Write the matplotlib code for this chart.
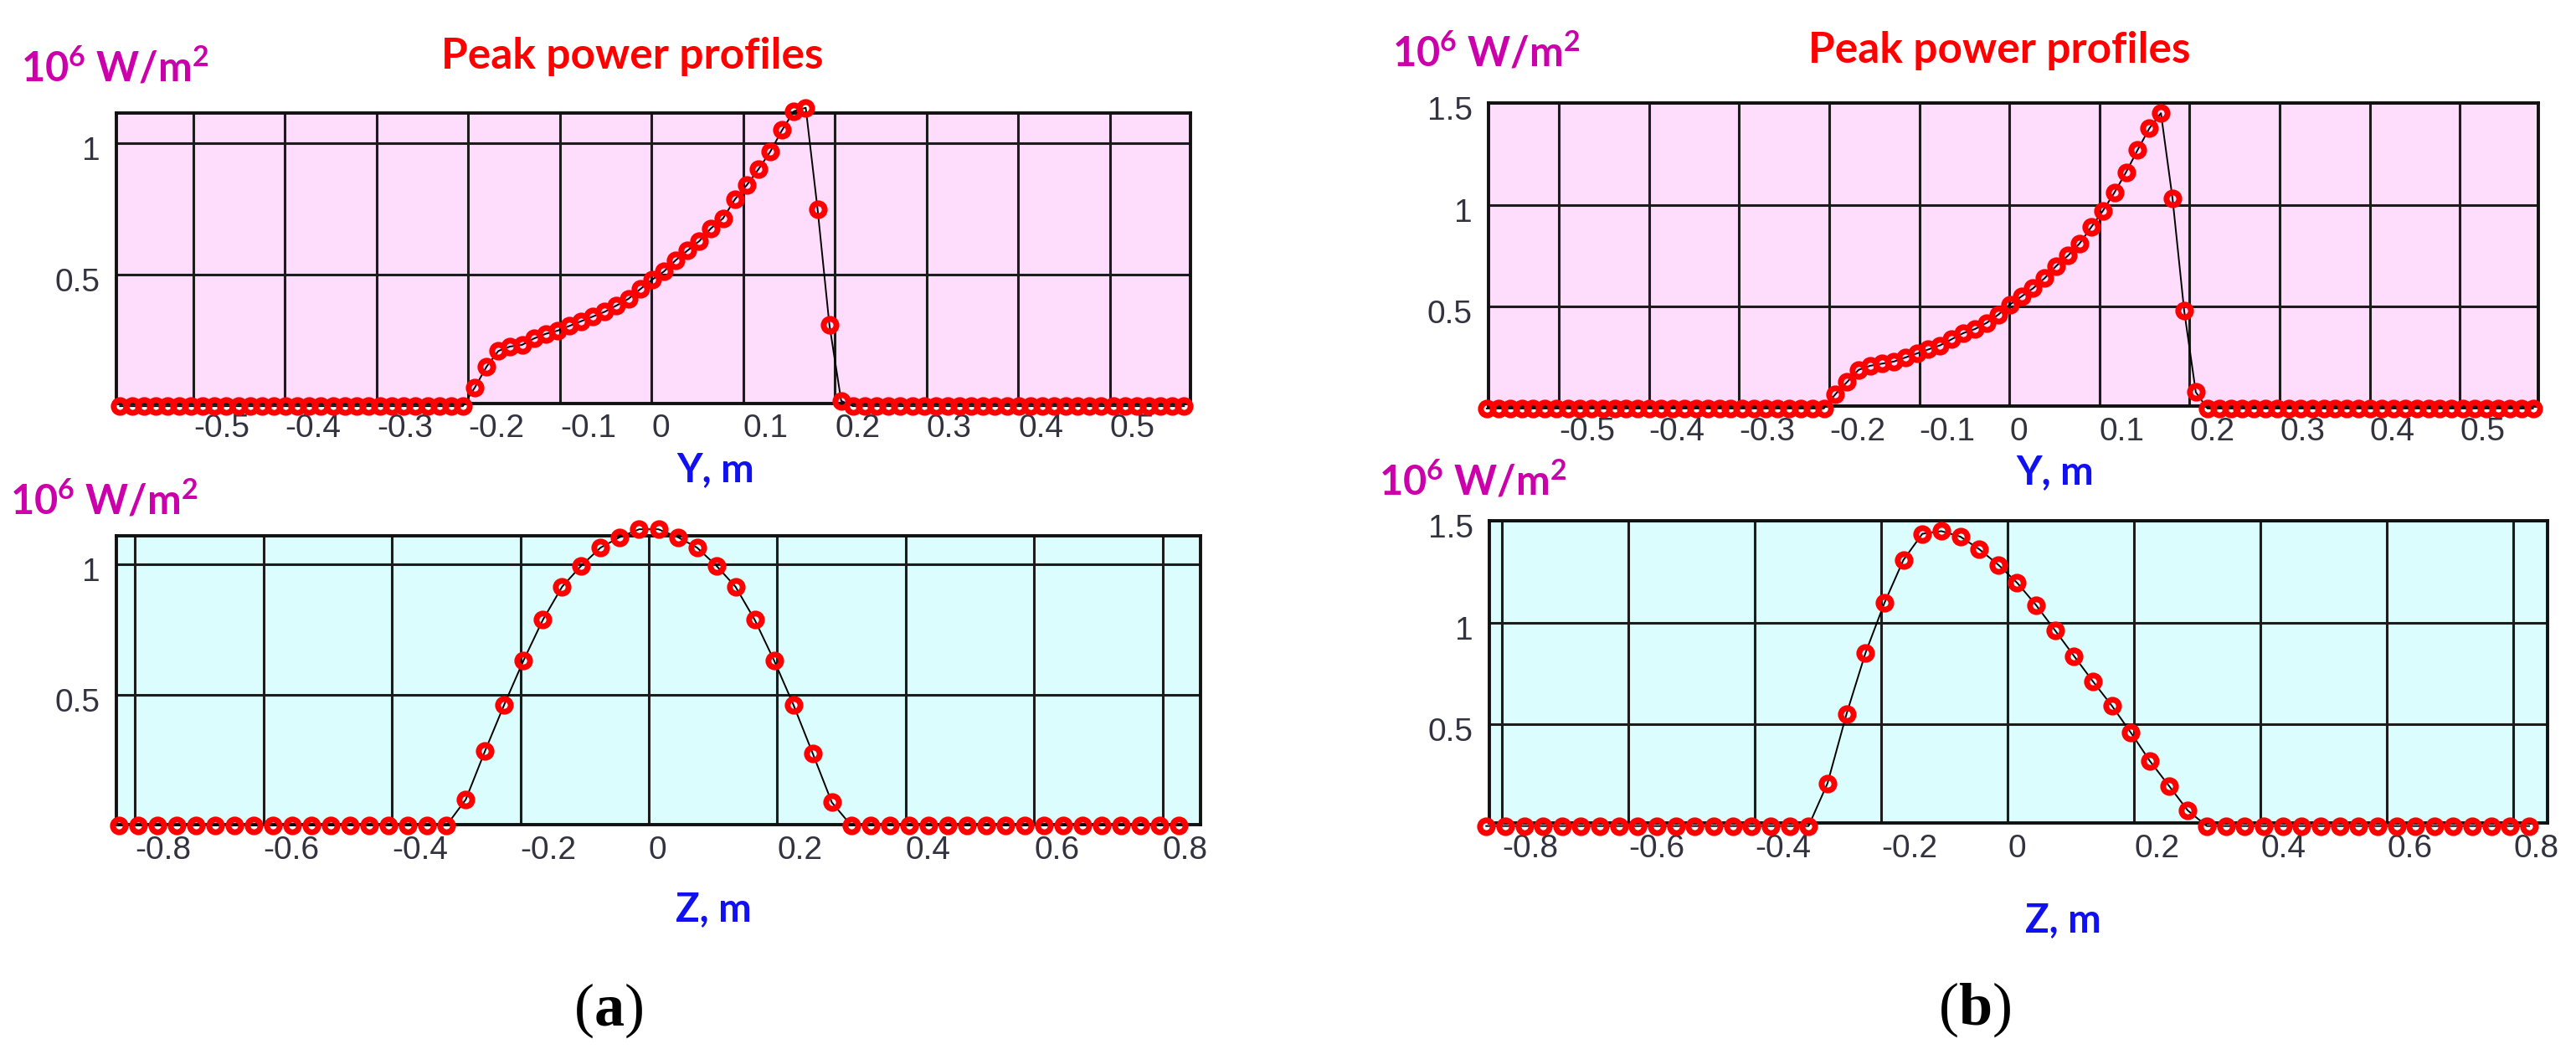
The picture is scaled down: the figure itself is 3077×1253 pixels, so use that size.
import numpy as np
import matplotlib.pyplot as plt
from matplotlib.transforms import ScaledTranslation

plt.rcParams['mathtext.fontset'] = 'custom'
plt.rcParams['mathtext.bf'] = 'Liberation Serif:bold'
plt.rcParams['mathtext.default'] = 'regular'

# sample positions of the two profiles (m)
y_pos = -0.58 + 0.0129 * np.arange(91)
z_pos = -0.825 + 0.03 * np.arange(56)

# peak power, 10^6 W/m^2 -- case (a)
pa_y = [0.0] * 30 + [0.07, 0.15, 0.21, 0.227, 0.233, 0.257, 0.275, 0.287, 0.305, 0.323,
                     0.341, 0.359, 0.383, 0.408, 0.445, 0.481, 0.512, 0.555, 0.592, 0.628,
                     0.677, 0.714, 0.786, 0.840, 0.901, 0.968, 1.05, 1.122, 1.135, 0.75,
                     0.31, 0.02] + [0.0] * 29
pa_z = [0.0] * 18 + [0.099, 0.285, 0.463, 0.632, 0.787, 0.914, 0.995, 1.064, 1.104, 1.134,
                     1.134, 1.104, 1.064, 0.995, 0.914, 0.787, 0.632, 0.463, 0.277, 0.088] + [0.0] * 18

# case (b)
pb_y = [0.0] * 30 + [0.07, 0.13, 0.19, 0.21, 0.22, 0.23, 0.25, 0.27, 0.29, 0.31,
                     0.34, 0.37, 0.39, 0.42, 0.46, 0.51, 0.55, 0.59, 0.64, 0.70,
                     0.75, 0.81, 0.89, 0.97, 1.06, 1.16, 1.27, 1.375, 1.45, 1.03,
                     0.48, 0.08] + [0.0] * 29
pb_z = [0.0] * 18 + [0.21, 0.55, 0.85, 1.096, 1.307, 1.436, 1.449, 1.422, 1.36, 1.284,
                     1.195, 1.085, 0.961, 0.835, 0.71, 0.59, 0.458, 0.319, 0.198, 0.076] + [0.0] * 18

y_ticks = [-0.5, -0.4, -0.3, -0.2, -0.1, 0, 0.1, 0.2, 0.3, 0.4, 0.5]
y_ticklabels = ['-0.5', '-0.4', '-0.3', '-0.2', '-0.1', '0', '0.1', '0.2', '0.3', '0.4', '0.5']
z_ticks = [-0.8, -0.6, -0.4, -0.2, 0, 0.2, 0.4, 0.6, 0.8]
z_ticklabels = ['-0.8', '-0.6', '-0.4', '-0.2', '0', '0.2', '0.4', '0.6', '0.8']

PINK = '#fddcfc'
CYAN = '#dcfdfd'
MAGENTA = '#cc00aa'
W, H = 3077, 1253

fig = plt.figure(figsize=(W / 100, H / 100), dpi=100)


def px(x0, y0, x1, y1):
    return [x0 / W, 1 - y1 / H, (x1 - x0) / W, (y1 - y0) / H]


panels = [
    (px(139, 135, 1422, 482), y_pos, pa_y, (-0.584, 0.588), (0.01, 1.115), y_ticks, y_ticklabels, [0.5, 1], ['0.5', '1'], PINK),
    (px(139, 640, 1434, 985), z_pos, pa_z, (-0.829, 0.859), (0.003, 1.109), z_ticks, z_ticklabels, [0.5, 1], ['0.5', '1'], CYAN),
    (px(1778, 123, 3032, 485), y_pos, pb_y, (-0.578, 0.587), (0.012, 1.5), y_ticks, y_ticklabels, [0.5, 1, 1.5], ['0.5', '1', '1.5'], PINK),
    (px(1779, 622, 3043, 983), z_pos, pb_z, (-0.820, 0.854), (0.015, 1.5), z_ticks, z_ticklabels, [0.5, 1, 1.5], ['0.5', '1', '1.5'], CYAN),
]

for box, xs, ps, xl, yl, xt, xtl, yt, ytl, bg in panels:
    ax = fig.add_axes(box)
    ax.set_facecolor(bg)
    ax.plot(xs, ps, color='black', lw=1.4, zorder=3, clip_on=False)
    ax.plot(xs, ps, 'o', mfc='none', mec='red', ms=11, mew=5, zorder=4, clip_on=False)
    ax.set_xlim(*xl)
    ax.set_ylim(*yl)
    ax.set_xticks(xt)
    ax.set_xticklabels(xtl, ha='left', family='Liberation Sans', fontsize=28, color='#333340')
    ax.set_yticks(yt)
    ax.set_yticklabels(ytl, family='Liberation Sans', fontsize=28, color='#333340')
    ax.tick_params(length=0)
    ax.tick_params(axis='x', pad=9)
    ax.tick_params(axis='y', pad=14)
    ax.grid(True, color='#1c1c1c', lw=2.2, zorder=1)
    ax.set_axisbelow(True)
    for s in ax.spines.values():
        s.set_linewidth(2.8)
        s.set_color('#111111')
    shift = ScaledTranslation(0, -6 / 100, fig.dpi_scale_trans)
    for lab in ax.get_yticklabels():
        lab.set_transform(lab.get_transform() + shift)


def ftext(x, y, s, **kw):
    fig.text(x / W, 1 - y / H, s, **kw)


for x, y in [(25, 97), (12, 615), (1663, 80), (1647, 592)]:
    ftext(x, y, '10$^{6}$ W/m$^{2}$', family='Lato', weight='bold', fontsize=35,
          color=MAGENTA, ha='left', va='baseline')

for x, y in [(755, 82), (2388, 75)]:
    ftext(x, y, 'Peak power profiles', family='Lato', weight='bold', fontsize=37,
          color='red', ha='center', va='baseline')

for x, y, s in [(855, 575, 'Y, m'), (2455, 578, 'Y, m'), (852, 1100, 'Z, m'), (2464, 1113, 'Z, m')]:
    ftext(x, y, s, family='Lato', weight='bold', fontsize=34, color='#1010f0',
          ha='center', va='baseline')

ftext(727, 1207, r'($\mathbf{a}$)', family='Liberation Serif', fontsize=52, ha='center', va='center')
ftext(2359, 1206, r'($\mathbf{b}$)', family='Liberation Serif', fontsize=52, ha='center', va='center')

fig.savefig('out.png', dpi=100)
